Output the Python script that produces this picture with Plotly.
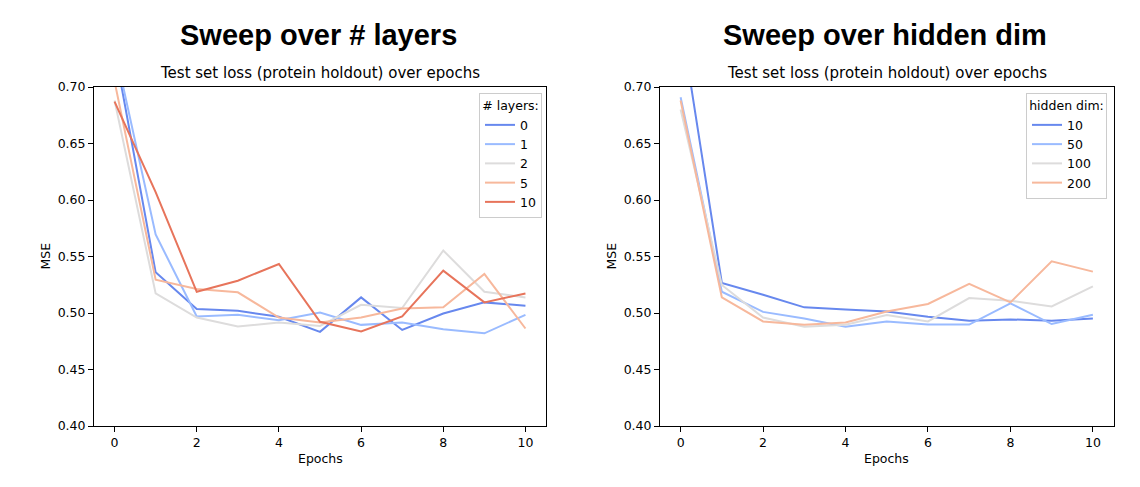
import plotly.graph_objects as go

# page body margin offsets the figure by 8px; compensate
OFF = 8
W, H = 1140 - OFF, 487 - OFF

epochs = list(range(11))

# Left panel: sweep over number of layers
layer_labels = ["0", "1", "2", "5", "10"]
layers_0 = [0.734, 0.536, 0.5035, 0.502, 0.4966, 0.4833, 0.5138, 0.485, 0.4996, 0.5094, 0.5064]
layers_1 = [0.735, 0.5695, 0.497, 0.4984, 0.4937, 0.5005, 0.4895, 0.4916, 0.4857, 0.482, 0.4984]
layers_2 = [0.688, 0.5173, 0.496, 0.488, 0.4916, 0.4886, 0.5073, 0.5044, 0.5553, 0.5188, 0.5138]
layers_5 = [0.705, 0.5295, 0.5212, 0.5183, 0.496, 0.4916, 0.496, 0.504, 0.505, 0.5345, 0.4863]
layers_10 = [0.687, 0.607, 0.5188, 0.5286, 0.5434, 0.4922, 0.4836, 0.497, 0.5375, 0.5094, 0.5173]
layer_series = [layers_0, layers_1, layers_2, layers_5, layers_10]

# Right panel: sweep over hidden dimension
hidden_labels = ["10", "50", "100", "200"]
hidden_10 = [0.760, 0.5266, 0.5162, 0.505, 0.503, 0.5014, 0.4967, 0.4931, 0.4943, 0.4931, 0.4952]
hidden_50 = [0.691, 0.5188, 0.501, 0.4952, 0.4878, 0.4925, 0.4898, 0.4898, 0.5085, 0.4902, 0.4984]
hidden_100 = [0.680, 0.5248, 0.496, 0.4878, 0.4896, 0.4982, 0.4925, 0.5132, 0.5109, 0.5058, 0.5236]
hidden_200 = [0.688, 0.5138, 0.4925, 0.4896, 0.4916, 0.5014, 0.508, 0.5257, 0.5094, 0.5458, 0.5366]
hidden_series = [hidden_10, hidden_50, hidden_100, hidden_200]

colors = ["#6788ee", "#9abbff", "#dddcdc", "#f7b89c", "#e7745b"]

y_ticks = [0.40, 0.45, 0.50, 0.55, 0.60, 0.65, 0.70]
x_ticks = [0, 2, 4, 6, 8, 10]

main_titles = ["Sweep over # layers", "Sweep over hidden dim"]
sub_title = "Test set loss (protein holdout) over epochs"
legend_titles = ["# layers:", "hidden dim:"]

FONT = "DejaVu Sans"
TFONT = "Liberation Sans, Arial, sans-serif"

fig = go.Figure()

for lab, vals, col in zip(layer_labels, layer_series, colors):
    fig.add_trace(go.Scatter(x=epochs, y=vals, mode="lines", name=lab,
                             line=dict(color=col, width=2),
                             xaxis="x", yaxis="y", legend="legend"))
for lab, vals, col in zip(hidden_labels, hidden_series, colors):
    fig.add_trace(go.Scatter(x=epochs, y=vals, mode="lines", name=lab,
                             line=dict(color=col, width=2),
                             xaxis="x2", yaxis="y2", legend="legend2"))

def px_x(p):
    return (p - OFF) / W

def px_y(p):
    return 1 - (p - OFF) / H

ydom = [px_y(426), px_y(87)]
xdom1 = [px_x(94), px_x(546)]
xdom2 = [px_x(660), px_x(1113.5)]

axis_common = dict(showline=True, mirror=True, linecolor="black", linewidth=1,
                   ticks="outside", ticklen=5, tickwidth=1, tickcolor="black",
                   showgrid=False, zeroline=False, automargin=False,
                   tickfont=dict(family=FONT, size=12.5, color="black"))

legend_common = dict(xanchor="right", yanchor="top",
                     bgcolor="rgba(255,255,255,0.8)", bordercolor="#cccccc", borderwidth=1,
                     font=dict(family=FONT, size=12.5, color="black"), tracegroupgap=0)

fig.update_layout(
    width=W, height=H,
    margin=dict(l=0, r=0, t=0, b=0),
    paper_bgcolor="white", plot_bgcolor="white",
    template="none",
    font=dict(family=FONT, size=12.5, color="black"),
    xaxis=dict(domain=xdom1, range=[-0.5, 10.5], tickvals=x_ticks, anchor="y", **axis_common),
    yaxis=dict(domain=ydom, range=[0.40, 0.70], tickvals=y_ticks, tickformat=".2f", anchor="x", **axis_common),
    xaxis2=dict(domain=xdom2, range=[-0.5, 10.5], tickvals=x_ticks, anchor="y2", **axis_common),
    yaxis2=dict(domain=ydom, range=[0.40, 0.70], tickvals=y_ticks, tickformat=".2f", anchor="x2", **axis_common),
    legend=dict(x=px_x(542), y=px_y(93),
                title=dict(text=legend_titles[0], side="top center", font=dict(family=FONT, size=12.5)),
                **legend_common),
    legend2=dict(x=px_x(1107), y=px_y(93),
                 title=dict(text=legend_titles[1], side="top center", font=dict(family=FONT, size=12.5)),
                 **legend_common),
    showlegend=True,
)

annotations = []
for cx_main, cx_sub, mt in [(318, 320, main_titles[0]), (884.5, 886.75, main_titles[1])]:
    annotations.append(dict(text="<b>" + mt + "</b>", x=px_x(cx_main), y=px_y(35),
                            xref="paper", yref="paper", xanchor="center", yanchor="middle",
                            showarrow=False, font=dict(family=TFONT, size=29, color="black")))
    annotations.append(dict(text=sub_title, x=px_x(cx_sub), y=px_y(73),
                            xref="paper", yref="paper", xanchor="center", yanchor="middle",
                            showarrow=False, font=dict(family=FONT, size=15, color="black")))
    annotations.append(dict(text="Epochs", x=px_x(cx_sub), y=px_y(458),
                            xref="paper", yref="paper", xanchor="center", yanchor="middle",
                            showarrow=False, font=dict(family=FONT, size=12.5, color="black")))
for cx in [45, 611]:
    annotations.append(dict(text="MSE", x=px_x(cx), y=px_y(256.5), textangle=-90,
                            xref="paper", yref="paper", xanchor="center", yanchor="middle",
                            showarrow=False, font=dict(family=FONT, size=12.5, color="black")))
fig.update_layout(annotations=annotations)

fig.write_html("out.html")
